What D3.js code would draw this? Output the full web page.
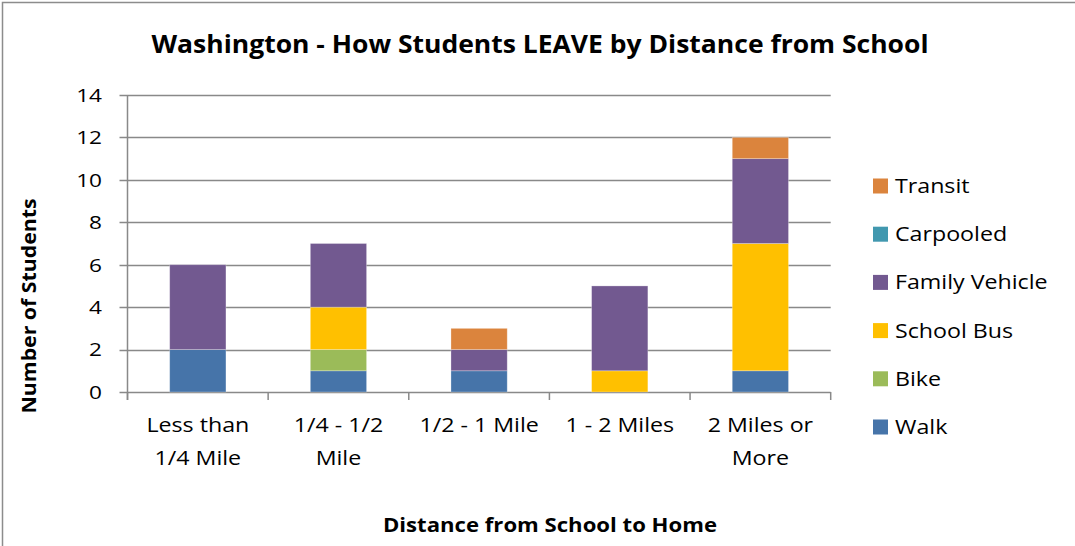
<!DOCTYPE html>
<html><head><meta charset="utf-8">
<script src="https://cdn.jsdelivr.net/npm/d3@7/dist/d3.min.js"></script>
<style>
html,body{margin:0;padding:0;background:#fff;}
svg text{font-family:"Open Sans",Lato,sans-serif;fill:#000;}
</style></head><body>
<svg id="chart" width="1075" height="546"></svg>
<script>
const categories = [["Less than","1/4 Mile"],["1/4 - 1/2","Mile"],["1/2 - 1 Mile"],["1 - 2 Miles"],["2 Miles or","More"]];
const seriesNames = ["Walk","Bike","School Bus","Family Vehicle","Carpooled","Transit"];
const walk = [2,1,1,0,1];
const bike = [0,1,0,0,0];
const schoolBus = [0,2,0,1,6];
const familyVehicle = [4,3,1,4,4];
const carpooled = [0,0,0,0,0];
const transit = [0,0,1,0,1];
const colors = ["#4674A9","#9BBB59","#FFC000","#725990","#4198AF","#DB843D"];
const yTicks = [0,2,4,6,8,10,12,14];

(function(){
const svg = d3.select("#chart");
const SX = 1.19;
svg.append("path").attr("d","M2.5,560 L2.5,2.5 L1080,2.5").attr("fill","none").attr("stroke","#8c8c8c").attr("stroke-width",1.5);

const pL = 127.5, pR = 830.7, pT = 95, pB = 392;
const keys = categories.map((c,i)=>i);
const x = d3.scaleBand().domain(keys).range([pL,pR]).paddingInner(0.6).paddingOuter(0.3);
const xb = d3.scaleBand().domain(keys).range([pL,pR]);
const y = d3.scaleLinear().domain([0,14]).range([pB,pT]);

const seriesData = [walk,bike,schoolBus,familyVehicle,carpooled,transit];
const rows = keys.map(i=>{const o={i}; seriesNames.forEach((s,k)=>o[s]=seriesData[k][i]); return o;});
const stack = d3.stack().keys(seriesNames)(rows);

svg.append("g").selectAll("line").data(yTicks).join("line")
  .attr("x1",pL-8).attr("x2",pR).attr("y1",d=>Math.round(y(d))+0.5).attr("y2",d=>Math.round(y(d))+0.5)
  .attr("stroke","#898989").attr("stroke-width",1.5);
svg.append("line").attr("x1",pL).attr("x2",pL).attr("y1",pT).attr("y2",pB+8).attr("stroke","#898989").attr("stroke-width",1.5);
svg.append("g").selectAll("line").data(keys.concat([keys.length])).join("line")
  .attr("x1",d=>d<keys.length?xb(d):pR).attr("x2",d=>d<keys.length?xb(d):pR)
  .attr("y1",pB).attr("y2",pB+8).attr("stroke","#898989").attr("stroke-width",1.5);

svg.append("g").selectAll("g").data(stack).join("g")
  .attr("fill",(d,k)=>colors[k])
  .selectAll("rect").data(d=>d.filter(p=>p[1]-p[0]>0)).join("rect")
  .attr("x",d=>x(d.data.i)).attr("width",x.bandwidth())
  .attr("y",d=>y(d[1])).attr("height",d=>y(d[0])-y(d[1]))
  .attr("stroke","rgba(255,255,255,0.35)").attr("stroke-width",0.8);

svg.append("g").selectAll("text").data(yTicks).join("text")
  .attr("transform",d=>`translate(102,${y(d)}) scale(${SX},1)`).attr("dy","0.36em").attr("text-anchor","end")
  .style("font-size","19px").text(d=>d);

const cl = svg.append("g").selectAll("text").data(categories).join("text")
  .attr("text-anchor","middle").style("font-size","19.5px")
  .attr("transform",(d,i)=>`translate(${xb(i)+xb.bandwidth()/2},432) scale(${SX},1)`);
cl.selectAll("tspan").data(d=>d).join("tspan").attr("x",0).attr("dy",(d,j)=>j?"1.7em":0).text(d=>d);

svg.append("text").attr("x",540).attr("y",53).attr("text-anchor","middle")
  .style("font-size","25px").style("font-weight","bold")
  .attr("textLength",777).attr("lengthAdjust","spacingAndGlyphs")
  .text("Washington - How Students LEAVE by Distance from School");
svg.append("text").attr("transform","translate(36,306) rotate(-90)").attr("text-anchor","middle")
  .style("font-size","20px").style("font-weight","bold")
  .attr("textLength",215).attr("lengthAdjust","spacingAndGlyphs").text("Number of Students");
svg.append("text").attr("x",550).attr("y",532).attr("text-anchor","middle")
  .style("font-size","20px").style("font-weight","bold")
  .attr("textLength",334).attr("lengthAdjust","spacingAndGlyphs").text("Distance from School to Home");

const legendOrder = seriesNames.map((s,k)=>k).reverse();
const lg = svg.append("g").selectAll("g").data(legendOrder).join("g")
  .attr("transform",(k,j)=>`translate(873,${186+j*48.2})`);
lg.append("rect").attr("x",0).attr("y",-7.5).attr("width",15).attr("height",15).attr("fill",k=>colors[k]);
lg.append("text").attr("transform",`translate(22,0) scale(${SX},1)`).attr("dy","0.36em").style("font-size","19.5px").text(k=>seriesNames[k]);
})();
</script>
</body></html>
